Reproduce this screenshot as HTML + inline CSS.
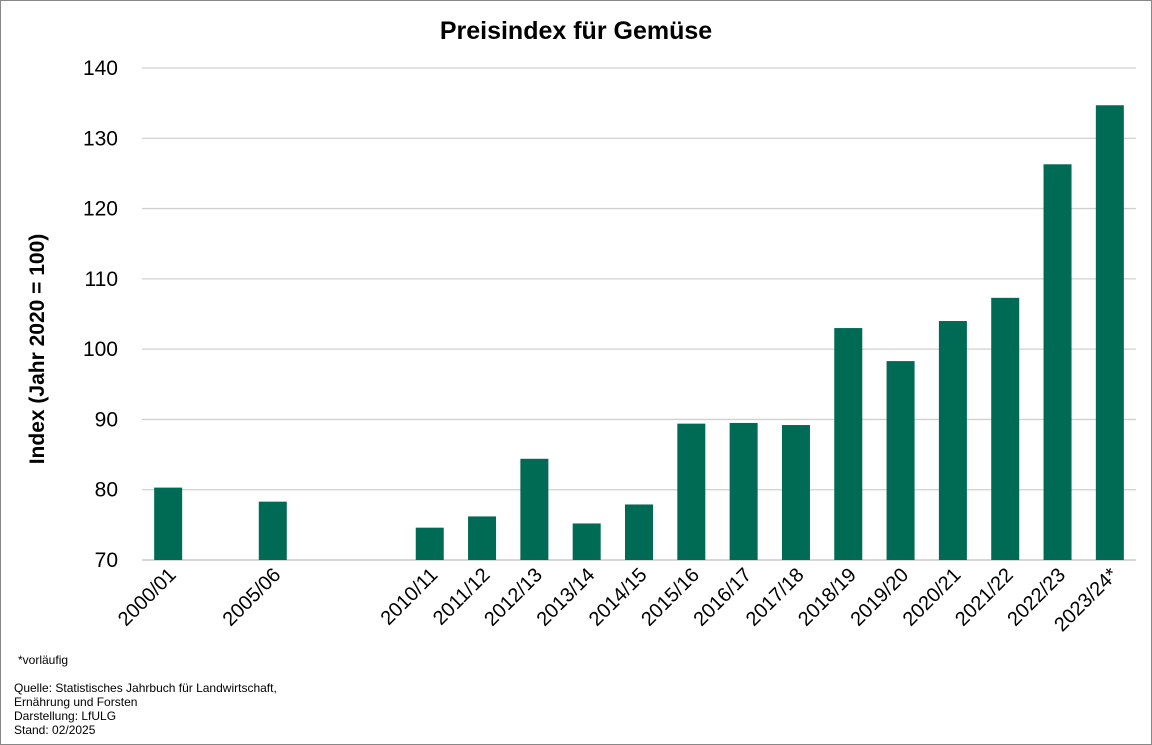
<!DOCTYPE html>
<html><head><meta charset="utf-8"><style>
html,body{margin:0;padding:0;background:#fff;}
svg{display:block;font-family:"Liberation Sans",Arial,sans-serif;}
</style></head><body>
<svg id="chart" width="1152" height="745" viewBox="0 0 1152 745">
<rect x="0.5" y="0.5" width="1151" height="744" fill="#fff" stroke="#888"/>
<text x="576" y="39" text-anchor="middle" font-size="25" font-weight="bold">Preisindex für Gemüse</text>
<text transform="translate(44,349) rotate(-90)" text-anchor="middle" font-size="21" font-weight="bold">Index (Jahr 2020 = 100)</text>
<g id="grid"></g><g id="bars"></g><g id="xlabels"></g>
<g font-size="12">
<text x="18" y="664">*vorläufig</text>
<text x="14" y="692">Quelle: Statistisches Jahrbuch für Landwirtschaft,</text>
<text x="14" y="706">Ernährung und Forsten</text>
<text x="14" y="720">Darstellung: LfULG</text>
<text x="14" y="734">Stand: 02/2025</text>
</g>
</svg>
<script>
const categories=["2000/01","","2005/06","","","2010/11","2011/12","2012/13","2013/14","2014/15","2015/16","2016/17","2017/18","2018/19","2019/20","2020/21","2021/22","2022/23","2023/24*"];
const values=[80.3,null,78.3,null,null,74.6,76.2,84.4,75.2,77.9,89.4,89.5,89.2,103.0,98.3,104.0,107.3,126.3,134.7];
const yTicks=[70,80,90,100,110,120,130,140];
const NS="http://www.w3.org/2000/svg";
const X0=142,X1=1136,Y0=560,Y1=68,YMIN=70,YMAX=140;
const slot=(X1-X0)/categories.length;
function xc(i){return X0+slot*(i+0.5);}
function y(v){return Y0-(v-YMIN)/(YMAX-YMIN)*(Y0-Y1);}
function mk(t,a,p){const e=document.createElementNS(NS,t);for(const k in a)e.setAttribute(k,a[k]);p.appendChild(e);return e;}
const grid=document.getElementById('grid'),bars=document.getElementById('bars'),xl=document.getElementById('xlabels');
yTicks.forEach(t=>{
 const l=mk('line',{x1:X0,x2:X1,y1:y(t),y2:y(t),stroke:t===YMIN?'#bfbfbf':'#d0d0d0','stroke-width':1.3},grid);
 
 
 const tx=mk('text',{x:118,y:y(t)+7,'text-anchor':'end','font-size':21},grid);
 tx.textContent=t;
 
 
});
categories.forEach((c,i)=>{
 const v=values[i];
 if(v!=null){
  const r=mk('rect',{x:xc(i)-14,y:y(v),width:28,height:Y0-y(v),fill:'#006b54'},bars);
  
  
 }
 if(c){
  const t=mk('text',{transform:`translate(${xc(i)+9},${Y0+16}) rotate(-45)`,'text-anchor':'end','font-size':20},xl);
  t.textContent=c;
  
  
 }
});
</script>
</body></html>
